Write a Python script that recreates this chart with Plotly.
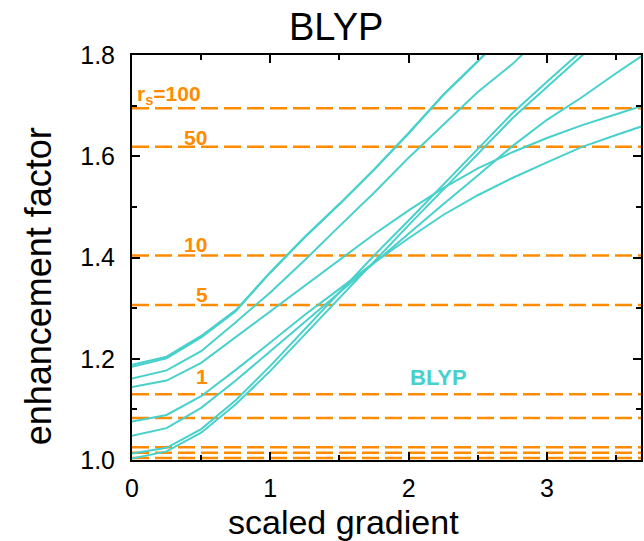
import plotly.graph_objects as go

# scaled gradient grid on which the BLYP enhancement factors are tabulated
s_grid = [0, 0.25, 0.5, 0.75, 1.0, 1.25, 1.5, 1.75, 2.0, 2.25, 2.5, 2.75, 3.0, 3.25, 3.5, 3.75]

# BLYP enhancement factor curves (one per density)
blyp_a1 = [1.184, 1.201, 1.242, 1.294, 1.370, 1.440, 1.505, 1.573, 1.645, 1.721, 1.787, 1.855, 1.925, 1.995, 2.065, 2.135]
blyp_a2 = [1.188, 1.204, 1.245, 1.296, 1.371, 1.441, 1.506, 1.574, 1.646, 1.721, 1.788, 1.856, 1.926, 1.996, 2.066, 2.136]
blyp_b = [1.161, 1.177, 1.215, 1.272, 1.331, 1.395, 1.462, 1.528, 1.597, 1.661, 1.727, 1.782, 1.848, 1.914, 1.980, 2.046]
blyp_c = [1.144, 1.157, 1.192, 1.243, 1.294, 1.345, 1.396, 1.446, 1.493, 1.537, 1.576, 1.608, 1.636, 1.661, 1.683, 1.705]
blyp_d = [1.076, 1.089, 1.126, 1.178, 1.232, 1.287, 1.338, 1.390, 1.438, 1.484, 1.523, 1.557, 1.588, 1.618, 1.642, 1.665]
blyp_e = [1.048, 1.063, 1.103, 1.157, 1.215, 1.273, 1.332, 1.390, 1.447, 1.505, 1.562, 1.620, 1.672, 1.716, 1.764, 1.810]
blyp_f = [1.013, 1.024, 1.061, 1.118, 1.186, 1.259, 1.333, 1.404, 1.473, 1.543, 1.613, 1.685, 1.747, 1.809, 1.870, 1.930]
blyp_g = [1.003, 1.017, 1.054, 1.110, 1.176, 1.248, 1.322, 1.394, 1.464, 1.534, 1.604, 1.675, 1.737, 1.799, 1.860, 1.920]
blyp_curves = [blyp_a1, blyp_a2, blyp_b, blyp_c, blyp_d, blyp_e, blyp_f, blyp_g]

# reference levels (dashed), one per Wigner-Seitz radius
rs_levels = [1.695, 1.619, 1.404, 1.306, 1.130, 1.083, 1.025, 1.0145, 1.004]
rs_labels = ["r<sub>s</sub>=100", "50", "10", "5", "1"]

x_max = 3.68
x_ticks = [0, 1, 2, 3]
y_ticks = [1.0, 1.2, 1.4, 1.6, 1.8]

TEAL = "#48D1CC"
ORANGE = "#FF8C00"
FONT = "Liberation Sans, Arial, sans-serif"

W, H = 644, 541
L, R, T, B = 132, 1, 55, 81
PW, PH = W - L - R, H - T - B


def px(x):
    return (x - L) / PW


def py(y):
    return (H - B - y) / PH


fig = go.Figure()

for lvl in rs_levels:
    fig.add_trace(go.Scatter(
        x=[0, x_max], y=[lvl, lvl], mode="lines",
        line=dict(color=ORANGE, width=2.5, dash="17px,6px"),
        hoverinfo="skip", showlegend=False,
    ))

for curve in blyp_curves:
    fig.add_trace(go.Scatter(
        x=s_grid, y=curve, mode="lines",
        line=dict(color=TEAL, width=2),
        showlegend=False,
    ))

# labels for the dashed levels (pixel anchors)
label_pos = [(135, 95, "left"), (196, 137, "center"), (196, 244, "center"),
             (202, 294, "center"), (202, 376, "center")]
annotations = []
for (xp, yp, anchor), txt in zip(label_pos, rs_labels):
    annotations.append(dict(
        x=px(xp), y=py(yp), xref="paper", yref="paper", text=txt,
        showarrow=False, xanchor=anchor, yanchor="middle",
        font=dict(family=FONT, size=21, color=ORANGE, weight="bold"),
    ))

annotations.append(dict(
    x=px(440), y=py(377), xref="paper", yref="paper", text="BLYP",
    showarrow=False, xanchor="center", yanchor="middle",
    font=dict(family=FONT, size=22, color=TEAL, weight="bold"),
))

# title and axis titles
annotations.append(dict(
    x=px(337), y=py(27), xref="paper", yref="paper", text="BLYP",
    showarrow=False, xanchor="center", yanchor="middle",
    font=dict(family=FONT, size=38, color="black"),
))
annotations.append(dict(
    x=px(344), y=py(522), xref="paper", yref="paper", text="scaled gradient",
    showarrow=False, xanchor="center", yanchor="middle",
    font=dict(family=FONT, size=34, color="black"),
))
annotations.append(dict(
    x=px(38), y=py(286), xref="paper", yref="paper", text="enhancement factor",
    showarrow=False, xanchor="center", yanchor="middle", textangle=-90,
    font=dict(family=FONT, size=36, color="black"),
))

axis_common = dict(
    showline=True, linecolor="black", linewidth=2, mirror="allticks",
    ticks="inside", ticklen=8, tickwidth=2, tickcolor="black",
    showgrid=False, zeroline=False,
    tickfont=dict(family=FONT, size=25, color="black"),
)

fig.update_layout(
    width=W, height=H,
    margin=dict(l=L, r=R, t=T, b=B),
    paper_bgcolor="white", plot_bgcolor="white",
    xaxis=dict(range=[0, x_max], tickvals=x_ticks, ticktext=[str(v) for v in x_ticks],
               minor=dict(dtick=0.5, tick0=0, ticks="inside", ticklen=5, tickwidth=2, tickcolor="black"),
               ticklabelstandoff=5, **axis_common),
    yaxis=dict(range=[1.0, 1.8], tickvals=y_ticks, ticktext=[f"{v:.1f}" for v in y_ticks],
               minor=dict(dtick=0.1, tick0=1.0, ticks="inside", ticklen=5, tickwidth=2, tickcolor="black"),
               ticklabelstandoff=10, **axis_common),
    annotations=annotations,
)

fig.write_html("out.html")
